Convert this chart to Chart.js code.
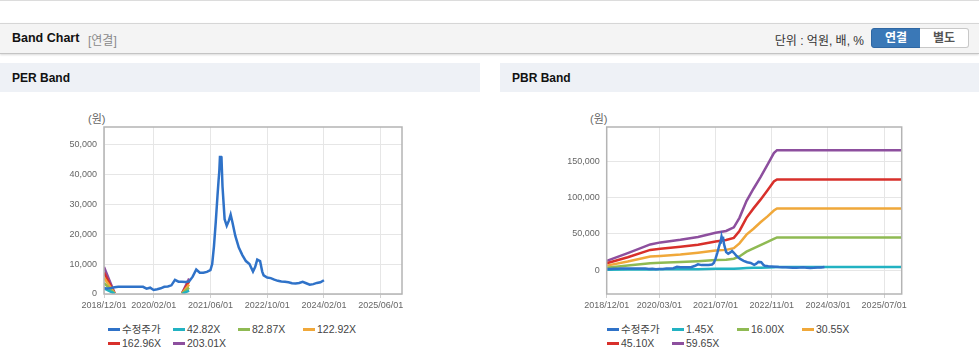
<!DOCTYPE html>
<html>
<head>
<meta charset="utf-8">
<script src="https://cdn.jsdelivr.net/npm/chart.js@4.4.1/dist/chart.umd.min.js"></script>
<style>
body { margin: 0; width: 979px; height: 361px; overflow: hidden; background: #fff; position: relative;
       font-family: "Liberation Sans", "Noto Sans CJK KR", sans-serif; }
.topline { position: absolute; left: 0; top: 0; width: 979px; height: 1px; background: #dcdcdc; }
.head { position: absolute; left: 0; top: 23px; width: 979px; height: 29px; background: #f4f4f4;
        border-top: 1px solid #d6d6d6; border-bottom: 1px solid #c4c4c4; box-shadow: 0 1px 2px rgba(0,0,0,.15); }
.head .title { position: absolute; left: 12px; top: 7px; font-size: 12.5px; font-weight: bold; color: #111; }
.head .sub { position: absolute; left: 88px; top: 7px; font-size: 12px; color: #8a8a8a; }
.head .unit { position: absolute; right: 115px; top: 7px; font-size: 12px; color: #333; }
.btn { position: absolute; top: 4px; width: 48px; height: 18px; font-size: 12px; font-weight: bold;
       text-align: center; line-height: 18px; }
.btn.on { left: 871px; background: #3a78b7; color: #fff; border: 1px solid #2f67a3; border-radius: 3px 0 0 3px; }
.btn.off { left: 920px; background: #fff; color: #555; border: 1px solid #c8c8c8; border-left: none; border-radius: 0 3px 3px 0; }
.sec { position: absolute; top: 63px; height: 29px; background: #eef1f6; }
.sec span { position: absolute; left: 12px; top: 8px; font-size: 12px; font-weight: bold; color: #111; }
.unitlbl { position: absolute; top: 110px; font-size: 11px; color: #666; }
canvas { position: absolute; top: 100px; }
.legend { position: absolute; top: 322px; width: 300px; font-size: 10.5px; color: #444; }
.legend div { display: inline-block; width: 65px; height: 14px; line-height: 14px; white-space: nowrap; }
.legend i { display: inline-block; width: 12px; height: 3px; margin-right: 2px; vertical-align: middle; position: relative; top: -1px; }
</style>
</head>
<body>
<div class="topline"></div>
<div class="head">
  <span class="title">Band Chart</span><span class="sub">[연결]</span>
  <span class="unit">단위 : 억원, 배, %</span>
  <span class="btn on">연결</span><span class="btn off">별도</span>
</div>
<div class="sec" style="left:0;width:480px"><span>PER Band</span></div>
<div class="sec" style="left:500px;width:479px"><span>PBR Band</span></div>
<div class="unitlbl" style="left:88px">(원)</div>
<div class="unitlbl" style="left:590px">(원)</div>
<canvas id="perChart" width="480" height="220" style="left:0"></canvas>
<canvas id="pbrChart" width="489" height="220" style="left:490px"></canvas>
<div class="legend" id="perLegend" style="left:108px"></div>
<div class="legend" id="pbrLegend" style="left:607px"></div>

<script>
// x values are months counted from 2018/12/01

// 수정주가 (adjusted price), shared by both charts
const priceMonths = [0,1,2,3,4,6,8,10,11,12, 13,14,15,16,17,18,19,20,21,22, 23,24,25,26,27,28,29,30,30.5,31,
  31.5,32,32.3,32.5,32.7,32.9,33.1,33.4,34,34.6, 35.2,35.7,36.2,37,38,39,40,41,42,42.6,
  43.2,44,44.6,45,46,47,48,49,50,51, 52,53,54,55,56,57,58,59,60,61, 62];
const priceValues = [1900,1800,2000,2250,2450,2450,2450,2450,2400,1800, 2100,1350,1600,1900,2400,2500,2900,4700,4100,4100,
  4000,4200,5800,8200,7100,7100,7400,8000,10000,16000, 24000,33000,38000,41000,46200,42000,46000,36000,25000,22800,
  24500,26500,24000,19500,15500,13000,11000,10000,7500,9000, 11500,11000,7500,6200,5500,5300,4800,4400,4200,4100,
  3900,3600,3500,3700,4100,3600,3100,3300,3700,3900, 4600];

// PER bands (only drawn where EPS is positive)
const perBandMonths = [0, 3, 10, 22, 24];
const per4282  = [1900, 100, null, 50, 1100];
const per8287  = [3700, 150, null, 100, 2100];
const per12292 = [5450, 200, null, 150, 3150];
const per16296 = [7200, 250, null, 200, 4200];
const per20301 = [9000, 300, null, 250, 5200];

// PBR bands
const pbrBandMonths = [0, 6, 12.4, 15.3, 21, 26, 31, 34, 36.2, 37.8, 39.8, 41.8, 43.8, 45.8, 47.6, 48.5, 84];
const pbr145  = [700, 900, 1200, 1300, 1400, 1500, 2000, 2100, 2200, 2500, 3000, 3300, 3600, 3900, 4300, 4500, 4500];
const pbr1600 = [3600, 6500, 9700, 10300, 11500, 12500, 14000, 14600, 15800, 19000, 25500, 30000, 34500, 39000, 43000, 45100, 45100];
const pbr3055 = [6400, 12000, 18800, 19700, 21500, 24000, 27000, 28000, 30400, 37000, 49000, 57000, 66000, 74000, 82000, 84800, 84800];
const pbr4510 = [9700, 17800, 28000, 29500, 32200, 35000, 39500, 41500, 44500, 54000, 72000, 85000, 97000, 110000, 122000, 124800, 124800];
const pbr5965 = [12800, 23500, 35500, 38300, 41900, 45700, 51500, 54000, 59000, 72000, 95000, 112000, 128000, 145000, 161000, 165000, 165000];

const perTickMonths = [0, 14, 30, 46, 62, 78];
const perTickLabels = ['2018/12/01', '2020/02/01', '2021/06/01', '2022/10/01', '2024/02/01', '2025/06/01'];
const pbrTickMonths = [0, 15, 31, 47, 63, 79];
const pbrTickLabels = ['2018/12/01', '2020/03/01', '2021/07/01', '2022/11/01', '2024/03/01', '2025/07/01'];
const perYTicks = [0, 10000, 20000, 30000, 40000, 50000];
const pbrYTicks = [0, 50000, 100000, 150000];

const colors = ['#2f72c8', '#22b2c2', '#8fba53', '#f0a83a', '#d8302b', '#8d4f9e'];

function pts(xs, ys) {
    return xs.map((x, i) => ({ x: x, y: ys[i] }));
}

// gray box around the plot area
const frame = {
    id: 'frame',
    afterDatasetsDraw(chart) {
        const { ctx, chartArea: a } = chart;
        ctx.save();
        ctx.strokeStyle = '#b4b4b4';
        ctx.lineWidth = 1.5;
        ctx.strokeRect(a.left, a.top, a.right - a.left, a.bottom - a.top);
        ctx.restore();
    }
};

function makeChart(id, legendId, series, xTicks, xLabels, yMin, yMax, yTicks, padLeft, padRight) {
    const datasets = series.map((s, i) => ({
        label: s[0],
        data: s[1],
        borderColor: colors[i],
        backgroundColor: colors[i],
        borderWidth: 2.5,
        pointRadius: 0,
        tension: 0,
        spanGaps: false
    }));
    const chart = new Chart(document.getElementById(id), {
        type: 'line',
        data: { datasets: datasets },
        options: {
            responsive: false,
            animation: false,
            layout: { padding: { left: padLeft, right: padRight, top: 27, bottom: 6 } },
            plugins: { legend: { display: false }, tooltip: { enabled: false } },
            scales: {
                x: {
                    type: 'linear', min: 0, max: 84,
                    afterBuildTicks: axis => { axis.ticks = xTicks.map(v => ({ value: v })); },
                    afterFit: axis => { axis.height = 20; },
                    ticks: {
                        autoSkip: false, maxRotation: 0, padding: 2, color: '#666',
                        font: { family: 'Liberation Sans', size: 9 },
                        callback: v => xLabels[xTicks.indexOf(v)]
                    },
                    grid: { color: '#e6e6e6', tickLength: 4, tickColor: '#d0d0d0' },
                    border: { display: false }
                },
                y: {
                    min: yMin, max: yMax,
                    afterBuildTicks: axis => { axis.ticks = yTicks.map(v => ({ value: v })); },
                    afterFit: axis => { axis.width = 70; },
                    ticks: {
                        autoSkip: false, padding: 7, color: '#666',
                        font: { family: 'Liberation Sans', size: 9 },
                        callback: v => v.toLocaleString('en-US')
                    },
                    grid: { color: '#e6e6e6', drawTicks: false },
                    border: { display: false }
                }
            }
        },
        plugins: [frame]
    });

    // legend in fixed columns, built from the datasets
    const box = document.getElementById(legendId);
    chart.data.datasets.forEach(d => {
        const item = document.createElement('div');
        item.innerHTML = '<i style="background:' + d.borderColor + '"></i>' + d.label;
        box.appendChild(item);
    });
    return chart;
}

makeChart('perChart', 'perLegend', [
    ['수정주가', pts(priceMonths, priceValues)],
    ['42.82X', pts(perBandMonths, per4282)],
    ['82.87X', pts(perBandMonths, per8287)],
    ['122.92X', pts(perBandMonths, per12292)],
    ['162.96X', pts(perBandMonths, per16296)],
    ['203.01X', pts(perBandMonths, per20301)]
], perTickMonths, perTickLabels, 0, 55800, perYTicks, 34, 78);

makeChart('pbrChart', 'pbrLegend', [
    ['수정주가', pts(priceMonths, priceValues)],
    ['1.45X', pts(pbrBandMonths, pbr145)],
    ['16.00X', pts(pbrBandMonths, pbr1600)],
    ['30.55X', pts(pbrBandMonths, pbr3055)],
    ['45.10X', pts(pbrBandMonths, pbr4510)],
    ['59.65X', pts(pbrBandMonths, pbr5965)]
], pbrTickMonths, pbrTickLabels, -32600, 196800, pbrYTicks, 46.7, 77.3);
</script>
</body>
</html>
